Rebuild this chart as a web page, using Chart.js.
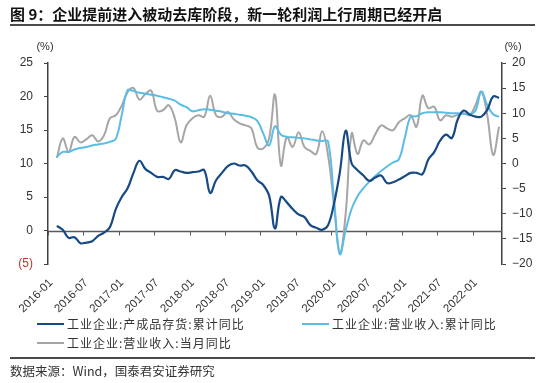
<!doctype html>
<html>
<head>
<meta charset="utf-8">
<title>企业提前进入被动去库阶段</title>
<script src="https://cdn.jsdelivr.net/npm/chart.js@4/dist/chart.umd.min.js"></script>
<style>
	body { margin: 0; background: #fff; }
	#wrap { position: relative; width: 550px; height: 383px; overflow: hidden; font-family: "Noto Sans CJK SC", sans-serif; }
	#canvas { position: absolute; left: 0; top: 0; }
	.title { position: absolute; left: 10px; top: 5px; font-size: 15px; font-weight: bold; line-height: 18px; color: #111; white-space: nowrap; }
	.rule { position: absolute; left: 10px; width: 525px; background: #4a4a4a; }
	.unit { position: absolute; top: 39px; font: 11px "Liberation Sans", Arial, sans-serif; line-height: 14px; color: #333; width: 30px; text-align: center; }
	.leg { position: absolute; font-size: 12px; letter-spacing: 1px; line-height: 16px; color: #333; display: flex; align-items: center; white-space: nowrap; }
	.sw { display: inline-block; width: 27px; height: 2.5px; margin-right: 3px; }
	.src { position: absolute; left: 10px; top: 363px; font-size: 12.5px; line-height: 16px; color: #333; white-space: nowrap; }
</style>
</head>
<body>
<div id="wrap">
	<canvas id="canvas" width="550" height="383"></canvas>
	<div class="title">图 9：企业提前进入被动去库阶段，新一轮利润上行周期已经开启</div>
	<div class="rule" style="top:24px;height:2px;"></div>
	<div class="unit" style="left:30px;">(%)</div>
	<div class="unit" style="left:498px;">(%)</div>
	<div class="leg" style="left:37px;top:316px;"><span class="sw" style="background:#174a84"></span>工业企业:产成品存货:累计同比</div>
	<div class="leg" style="left:302px;top:316px;"><span class="sw" style="background:#5bbde6"></span>工业企业:营业收入:累计同比</div>
	<div class="leg" style="left:37px;top:335px;"><span class="sw" style="background:#a6a6a6"></span>工业企业:营业收入:当月同比</div>
	<div class="rule" style="top:357px;height:1.5px;"></div>
	<div class="src">数据来源：Wind，国泰君安证券研究</div>
</div>
<script>
	// months 2016-01 .. 2022-05
	var labels = [];
	for (var y = 2016; y <= 2022; y++) {
		for (var m = 1; m <= 12; m++) {
			if (y === 2022 && m > 5) break;
			labels.push(y + '-' + (m < 10 ? '0' + m : m));
		}
	}

	// 产成品存货:累计同比 (left axis), from 2016-02
	var inventory = [null,
		0.7, 0.1, -1.1, -1.0, -1.9, -1.8, -1.6, -0.8, -0.3, 0.5, 3.2,
		5.0, 6.3, 8.6, 10.4, 9.2, 8.6, 8.0, 8.0, 7.7, 9.0, 8.8, 8.6,
		8.7, 8.8, 9.0, 5.6, 7.5, 8.6, 9.6, 10.0, 9.7, 9.7, 8.8, 7.5,
		6.8, 5.2, 0.3, 5.0, 4.2, 3.2, 2.4, 2.0, 0.8, 0.4, 0.1, 0.8,
		4.0, 8.7, 14.9, 10.0, 9.0, 8.2, 7.4, 7.9, 8.2, 7.1, 7.2, 7.6,
		8.1, 8.6, 8.6, 8.4, 10.6, 11.7, 13.4, 14.3, 13.8, 16.6, 17.9, 17.3,
		17.0, 17.0, 18.0, 20.0, 19.8
	];

	// 营业收入:累计同比 (right axis)
	var revenueCum = [null,
		1.3, 2.3, 2.3, 2.8, 3.1, 3.3, 3.6, 3.8, 4.0, 4.3, 4.9,
		9.6, 14.6, 14.4, 14.1, 13.9, 13.7, 13.5, 13.2, 12.9, 12.5, 11.7, 11.2,
		10.4, 10.6, 10.8, 10.7, 10.5, 10.3, 10.0, 9.9, 9.7, 9.5, 9.2, 8.5,
		6.0, 3.6, 7.4, 5.7, 5.3, 5.2, 5.1, 5.0, 4.8, 4.6, 4.5, 4.4,
		-7.0, -18.0, -13.2, -9.0, -6.5, -4.9, -3.6, -2.5, -1.5, -0.6, 0.2, 0.8,
		5.0, 9.3, 9.4, 10.0, 10.2, 10.2, 10.2, 10.1, 10.0, 10.0, 9.9, 9.8,
		10.5, 14.3, 11.6, 9.8, 9.3
	];

	// 营业收入:当月同比 (right axis)
	var revenueMonth = [null,
		1.1, 5.0, 2.3, 5.3, 4.2, 4.8, 5.6, 4.4, 5.6, 9.0, 9.6,
		11.5, 14.2, 15.0, 12.7, 13.8, 14.5, 10.5, 10.6, 11.6, 9.0, 4.2, 7.6,
		9.0, 9.6, 9.3, 13.5, 9.6, 9.3, 10.3, 8.8, 8.0, 7.6, 7.0, 3.2,
		3.0, 5.0, 13.7, -0.4, 5.3, 3.3, 6.2, 3.3, 2.5, 1.9, 6.4, 1.6,
		-8.2, -18.0, -9.8, 6.0, 1.9, 4.6, 3.8, 5.8, 7.6, 7.0, 6.6, 8.2,
		9.0, 9.6, 7.3, 13.5, 11.0, 11.3, 8.6, 9.6, 9.3, 9.7, 10.0, 9.6,
		11.6, 14.3, 9.6, 1.7, 7.3
	];

	function isTickMonth(l) {
		return l.slice(5) === '01' || l.slice(5) === '07';
	}

	// x axis drawn along the left-axis zero line, ticks every 6 months
	var zeroAxis = {
		id: 'zeroAxis',
		beforeDatasetsDraw: function(chart) {
			var ctx = chart.ctx, area = chart.chartArea, xs = chart.scales.x;
			var y0 = Math.round(chart.scales.y.getPixelForValue(0)) + 0.5;
			var half = (xs.getPixelForValue(1) - xs.getPixelForValue(0)) / 2;
			ctx.save();
			ctx.strokeStyle = '#595959';
			ctx.lineWidth = 1.5;
			ctx.beginPath();
			ctx.moveTo(area.left, y0);
			ctx.lineTo(area.right, y0);
			ctx.stroke();
			ctx.lineWidth = 1;
			ctx.beginPath();
			labels.forEach(function(l, i) {
				if (!isTickMonth(l)) return;
				var x = Math.round(xs.getPixelForValue(i) - half) + 0.5;
				ctx.moveTo(x, y0);
				ctx.lineTo(x, y0 + 4);
			});
			ctx.stroke();
			ctx.restore();
		}
	};

	var tickFont = { family: '"Liberation Sans", Arial, sans-serif', size: 12 };

	var config = {
		type: 'line',
		data: {
			labels: labels,
			datasets: [{
				label: '工业企业:产成品存货:累计同比',
				data: inventory,
				yAxisID: 'y',
				borderColor: '#174a84',
				borderWidth: 2.2
			}, {
				label: '工业企业:营业收入:累计同比',
				data: revenueCum,
				yAxisID: 'y2',
				borderColor: '#5bbde6',
				borderWidth: 2
			}, {
				label: '工业企业:营业收入:当月同比',
				data: revenueMonth,
				yAxisID: 'y2',
				borderColor: '#a6a6a6',
				borderWidth: 2
			}]
		},
		options: {
			responsive: false,
			animation: false,
			layout: { padding: { top: 63, left: 0, right: 0, bottom: 0 } },
			elements: {
				line: { tension: 0.4, fill: false },
				point: { radius: 0 }
			},
			plugins: {
				legend: { display: false },
				tooltip: { enabled: false }
			},
			scales: {
				x: {
					type: 'category',
					offset: true,
					grid: { display: false },
					border: { display: false },
					ticks: {
						autoSkip: false,
						minRotation: 45,
						maxRotation: 45,
						padding: 4,
						color: '#333',
						font: { family: tickFont.family, size: 11.5 },
						callback: function(v, i) {
							return isTickMonth(labels[i]) ? labels[i] : null;
						}
					},
					afterFit: function(s) { s.height = 119; }
				},
				y: {
					position: 'left',
					min: -5,
					max: 25,
					ticks: {
						stepSize: 5,
						padding: 11,
						font: tickFont,
						color: function(c) { return c.tick.value === -5 ? '#c0392b' : '#333'; },
						callback: function(v) { return v < 0 ? '(' + (-v) + ')' : v; }
					},
					grid: { drawOnChartArea: false, tickLength: 4, tickColor: '#404040' },
					border: { display: true, color: '#404040', width: 1.5 },
					afterFit: function(s) { s.width = 48; }
				},
				y2: {
					position: 'right',
					min: -20,
					max: 20,
					ticks: {
						stepSize: 5,
						padding: 6,
						font: tickFont,
						color: '#333',
						callback: function(v) { return v < 0 ? '\u2212' + (-v) : v; }
					},
					grid: { drawOnChartArea: false, tickLength: 4, tickColor: '#404040' },
					border: { display: true, color: '#404040', width: 1.5 },
					afterFit: function(s) { s.width = 48; }
				}
			}
		},
		plugins: [zeroAxis]
	};

	window.myLine = new Chart(document.getElementById('canvas').getContext('2d'), config);
</script>
</body>
</html>
